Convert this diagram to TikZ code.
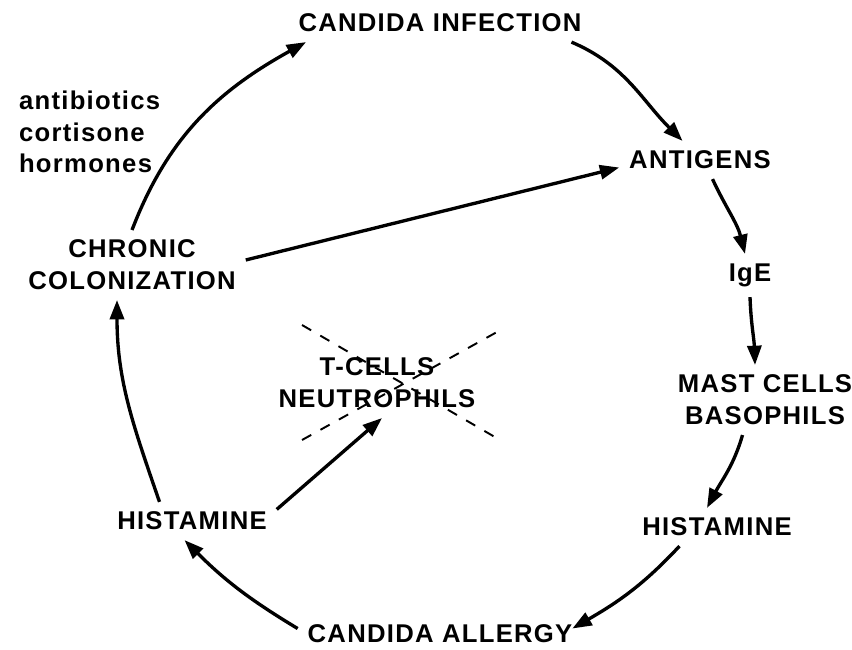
\documentclass[tikz,border=0pt]{standalone}
\usepackage{fontspec}
\setmainfont[LetterSpace=5]{Liberation Sans}
\usepackage{tikz}
\usetikzlibrary{arrows.meta}

\begin{document}
\begin{tikzpicture}[>={Triangle[length=11pt,width=8pt]}, line width=1.9pt,
    lbl/.style={font=\fontsize{14.6}{18.1}\selectfont\bfseries, inner sep=2pt, outer sep=0.13cm, align=center},
    flow/.style={->},
    cross/.style={line width=1.1pt, dash pattern=on 6pt off 6pt}]
    \useasboundingbox (0,0) rectangle (17.04,12.98);
    % Outer cycle
    \node[lbl] (inf) at (8.80,12.52) {CANDIDA INFECTION};
    \node[lbl] (ant) at (14.00,9.78) {ANTIGENS};
    \node[lbl] (ige) at (15.00,7.47) {IgE};
    \node[lbl] (mast) at (15.30,4.98) {MAST CELLS\\BASOPHILS};
    \node[lbl] (hisR) at (14.34,2.44) {HISTAMINE};
    \node[lbl] (allergy) at (8.80,0.31) {CANDIDA ALLERGY};
    \node[lbl] (hisL) at (3.84,2.56) {HISTAMINE};
    \node[lbl] (chronic) at (2.64,7.68) {CHRONIC\\COLONIZATION};
    % Inner
    \node[lbl] (tcells) at (7.54,5.32) {T-CELLS\\NEUTROPHILS};
    \node[lbl, align=left, anchor=west] (drugs) at (0.18,10.34) {antibiotics\\cortisone\\hormones};
    % Cross-out
    \draw[cross] ([shift={(-1.5,1.16)}]tcells.center) -- ([shift={(2.46,-1.14)}]tcells.center);
    \draw[cross] ([shift={(-1.5,-1.14)}]tcells.center) -- ([shift={(2.4,1.02)}]tcells.center);
    % Arrows
    \draw[flow] (chronic.north) to[out=69,in=209] ([xshift=0.35cm]inf.south west);
    \draw[flow] ([xshift=-0.4cm]inf.south east) to[out=-23,in=135] ([xshift=-0.35cm]ant.north);
    \draw[flow] ([yshift=0.1cm]chronic.east) -- ([yshift=-0.15cm]ant.west);
    \draw[flow] ([xshift=0.25cm]ant.south) to[out=-65,in=104] ([xshift=-0.1cm]ige.north);
    \draw[flow] (ige.south) to[out=-88,in=92] ([xshift=-0.2cm]mast.north);
    \draw[flow] ([xshift=-0.45cm]mast.south) to[out=-106,in=62] ([xshift=-0.2cm]hisR.north);
    \draw[flow] ([xshift=-0.75cm]hisR.south) to[out=227,in=30] ([shift={(-0.2,0.1)}]allergy.east);
    \draw[flow] ([yshift=0.1cm]allergy.west) to[out=149,in=-45] ([xshift=-0.15cm]hisL.south);
    \draw[flow] ([xshift=-0.65cm]hisL.north) to[out=109,in=-90] ([xshift=-0.3cm]chronic.south);
    \draw[flow] ([yshift=-0.15cm]hisL.north east) -- ([xshift=0.1cm]tcells.south);
\end{tikzpicture}
\end{document}
